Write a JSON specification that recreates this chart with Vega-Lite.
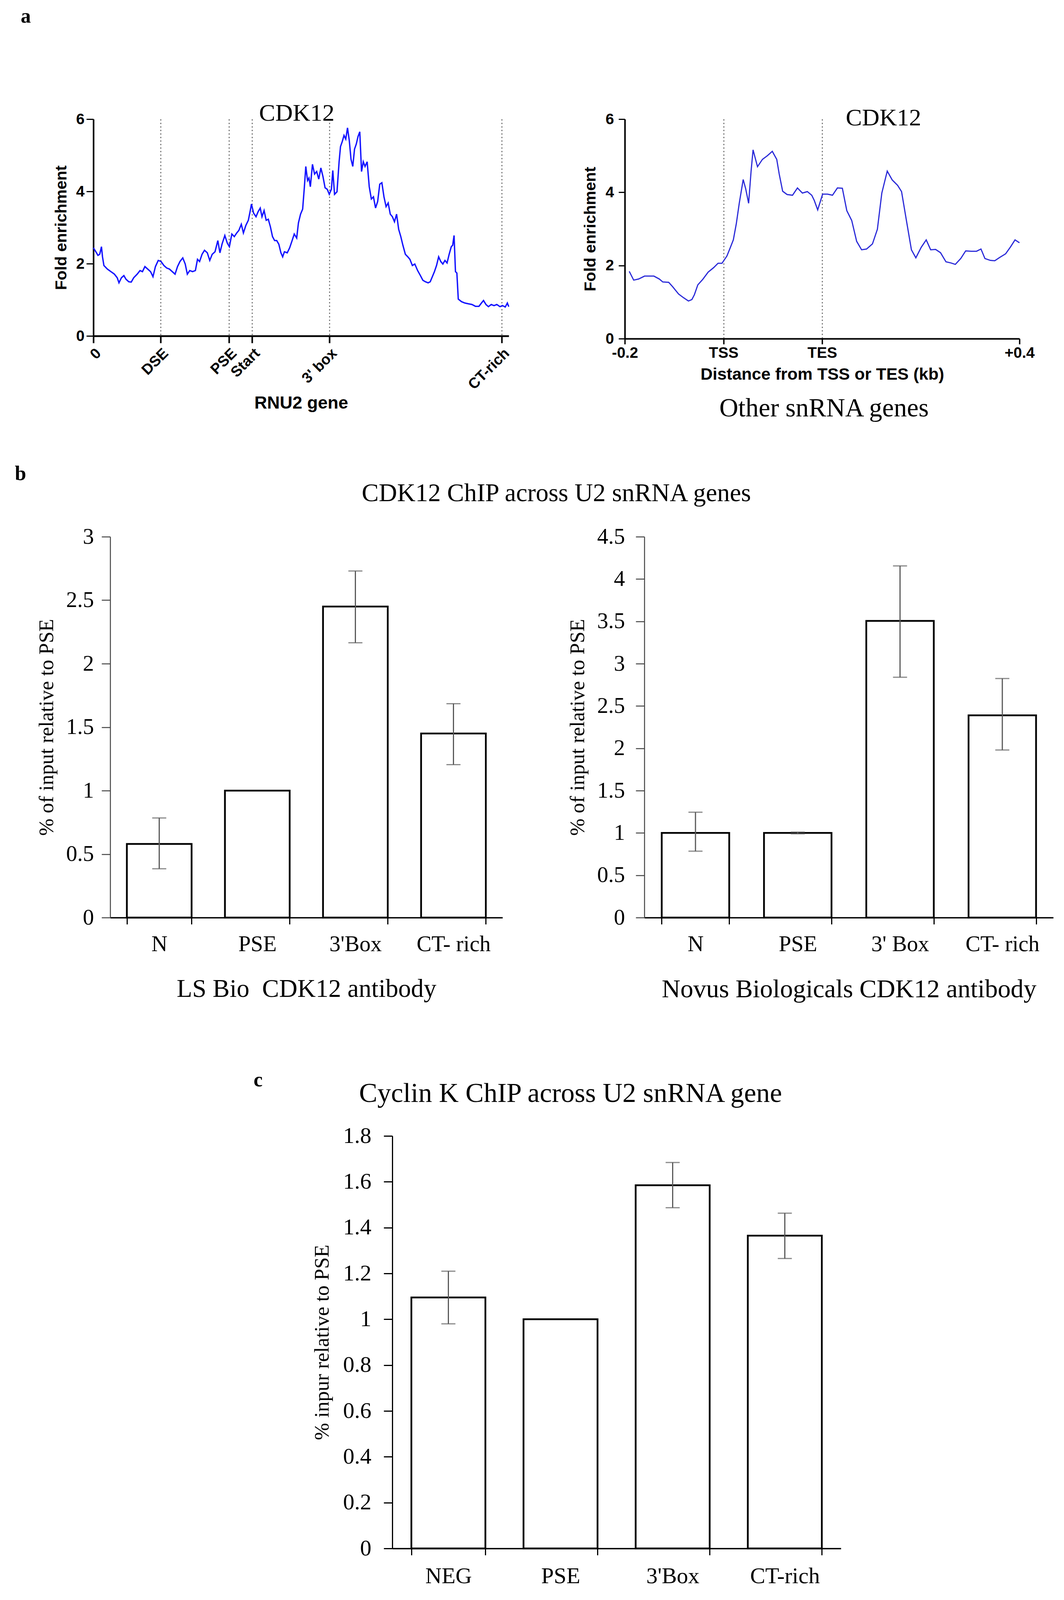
{
  "$schema": "https://vega.github.io/schema/vega-lite/v6.json",
  "background": "white",
  "padding": {"left": 0, "top": 16, "right": 0, "bottom": 0},
  "spacing": 174,
  "config": {
    "view": {"stroke": null},
    "axis": {"labelColor": "black", "titleColor": "black", "domainColor": "black", "tickColor": "black", "labelFlush": false, "labelOverlap": false, "labelLimit": 0, "grid": false},
    "title": {"color": "black"}
  },
  "vconcat": [
    {
      "spacing": 108,
      "vconcat": [
        {
          "title": {"text": "a", "anchor": "start", "frame": "bounds", "font": "Liberation Serif", "fontSize": 52, "fontWeight": "bold", "offset": 190, "dx": 53},
          "spacing": 0,
          "hconcat": [
            {"width": 136, "height": 1, "data": {"values": []}, "mark": "point"},
            {
              "spacing": 179,
              "hconcat": [
                {
                  "width": 1063,
                  "height": 555,
                  "title": {"text": "CDK12", "font": "Liberation Serif", "fontSize": 62, "fontWeight": "normal", "anchor": "middle", "frame": "group", "offset": -36, "dx": -11},
                  "data": {"values": [
                    {"pos":0,"fe":2.44},{"pos":7,"fe":2.33},{"pos":13,"fe":2.23},{"pos":18,"fe":2.26},{"pos":23,"fe":2.47},{"pos":26,"fe":2.19},{"pos":30,"fe":1.95},{"pos":40,"fe":1.85},{"pos":50,"fe":1.78},{"pos":60,"fe":1.71},{"pos":68,"fe":1.61},{"pos":73,"fe":1.47},{"pos":80,"fe":1.61},{"pos":87,"fe":1.67},{"pos":93,"fe":1.57},{"pos":101,"fe":1.50},{"pos":108,"fe":1.49},{"pos":115,"fe":1.61},{"pos":125,"fe":1.71},{"pos":133,"fe":1.81},{"pos":140,"fe":1.78},{"pos":147,"fe":1.92},{"pos":155,"fe":1.85},{"pos":163,"fe":1.78},{"pos":170,"fe":1.64},{"pos":177,"fe":1.92},{"pos":185,"fe":2.09},{"pos":193,"fe":2.06},{"pos":201,"fe":1.95},{"pos":209,"fe":1.88},{"pos":217,"fe":1.85},{"pos":225,"fe":1.78},{"pos":233,"fe":1.71},{"pos":240,"fe":1.92},{"pos":247,"fe":2.06},{"pos":255,"fe":2.16},{"pos":262,"fe":1.99},{"pos":268,"fe":1.71},{"pos":275,"fe":1.81},{"pos":283,"fe":1.78},{"pos":291,"fe":1.81},{"pos":297,"fe":2.12},{"pos":303,"fe":2.06},{"pos":310,"fe":2.26},{"pos":317,"fe":2.37},{"pos":325,"fe":2.30},{"pos":332,"fe":2.09},{"pos":339,"fe":2.26},{"pos":347,"fe":2.33},{"pos":355,"fe":2.64},{"pos":361,"fe":2.30},{"pos":367,"fe":2.54},{"pos":375,"fe":2.78},{"pos":382,"fe":2.57},{"pos":388,"fe":2.47},{"pos":395,"fe":2.82},{"pos":402,"fe":2.75},{"pos":409,"fe":2.85},{"pos":415,"fe":2.92},{"pos":422,"fe":3.09},{"pos":428,"fe":2.85},{"pos":435,"fe":3.06},{"pos":442,"fe":3.20},{"pos":447,"fe":3.44},{"pos":451,"fe":3.65},{"pos":457,"fe":3.40},{"pos":464,"fe":3.30},{"pos":470,"fe":3.44},{"pos":476,"fe":3.54},{"pos":481,"fe":3.30},{"pos":487,"fe":3.47},{"pos":493,"fe":3.20},{"pos":499,"fe":3.23},{"pos":505,"fe":3.02},{"pos":511,"fe":2.75},{"pos":517,"fe":2.64},{"pos":523,"fe":2.64},{"pos":529,"fe":2.54},{"pos":535,"fe":2.30},{"pos":540,"fe":2.19},{"pos":545,"fe":2.33},{"pos":553,"fe":2.30},{"pos":560,"fe":2.44},{"pos":567,"fe":2.64},{"pos":573,"fe":2.82},{"pos":580,"fe":2.71},{"pos":585,"fe":3.13},{"pos":591,"fe":3.37},{"pos":597,"fe":3.51},{"pos":602,"fe":4.13},{"pos":606,"fe":4.69},{"pos":611,"fe":4.30},{"pos":615,"fe":4.37},{"pos":619,"fe":4.13},{"pos":625,"fe":4.75},{"pos":631,"fe":4.48},{"pos":637,"fe":4.55},{"pos":643,"fe":4.34},{"pos":649,"fe":4.65},{"pos":655,"fe":4.41},{"pos":661,"fe":4.10},{"pos":667,"fe":4.06},{"pos":673,"fe":3.92},{"pos":679,"fe":4.06},{"pos":683,"fe":4.58},{"pos":688,"fe":3.92},{"pos":695,"fe":3.99},{"pos":701,"fe":4.82},{"pos":705,"fe":5.24},{"pos":710,"fe":5.38},{"pos":715,"fe":5.55},{"pos":720,"fe":5.45},{"pos":725,"fe":5.76},{"pos":730,"fe":5.41},{"pos":735,"fe":4.89},{"pos":740,"fe":4.69},{"pos":745,"fe":5.17},{"pos":750,"fe":5.31},{"pos":755,"fe":5.52},{"pos":760,"fe":5.65},{"pos":765,"fe":4.55},{"pos":770,"fe":4.82},{"pos":775,"fe":4.69},{"pos":781,"fe":4.82},{"pos":787,"fe":4.13},{"pos":793,"fe":3.79},{"pos":799,"fe":3.85},{"pos":805,"fe":3.54},{"pos":811,"fe":3.72},{"pos":817,"fe":4.20},{"pos":823,"fe":4.24},{"pos":829,"fe":3.85},{"pos":835,"fe":3.58},{"pos":841,"fe":3.68},{"pos":847,"fe":3.37},{"pos":853,"fe":3.30},{"pos":859,"fe":3.16},{"pos":865,"fe":3.37},{"pos":871,"fe":2.95},{"pos":877,"fe":2.75},{"pos":883,"fe":2.51},{"pos":890,"fe":2.26},{"pos":897,"fe":2.19},{"pos":903,"fe":2.12},{"pos":910,"fe":1.95},{"pos":917,"fe":1.99},{"pos":925,"fe":1.81},{"pos":933,"fe":1.67},{"pos":940,"fe":1.54},{"pos":947,"fe":1.50},{"pos":955,"fe":1.47},{"pos":961,"fe":1.50},{"pos":967,"fe":1.64},{"pos":973,"fe":1.78},{"pos":979,"fe":1.95},{"pos":985,"fe":2.19},{"pos":991,"fe":2.06},{"pos":997,"fe":1.99},{"pos":1003,"fe":2.09},{"pos":1009,"fe":2.02},{"pos":1015,"fe":2.26},{"pos":1021,"fe":2.47},{"pos":1025,"fe":2.51},{"pos":1029,"fe":2.78},{"pos":1033,"fe":1.78},{"pos":1037,"fe":1.74},{"pos":1041,"fe":1.02},{"pos":1050,"fe":0.95},{"pos":1060,"fe":0.91},{"pos":1070,"fe":0.89},{"pos":1080,"fe":0.87},{"pos":1090,"fe":0.82},{"pos":1100,"fe":0.82},{"pos":1107,"fe":0.91},{"pos":1113,"fe":0.98},{"pos":1120,"fe":0.87},{"pos":1127,"fe":0.81},{"pos":1135,"fe":0.87},{"pos":1143,"fe":0.84},{"pos":1151,"fe":0.87},{"pos":1160,"fe":0.81},{"pos":1167,"fe":0.84},{"pos":1175,"fe":0.80},{"pos":1181,"fe":0.91},{"pos":1185,"fe":0.81}
                  ]},
                  "mark": {"type": "line", "color": "#1414ff", "strokeWidth": 3.5},
                  "encoding": {
                    "x": {"field": "pos", "type": "quantitative", "scale": {"domain": [0, 1185], "nice": false, "zero": false},
                      "axis": {"values": [0, 192, 387, 453, 673, 1165],
                        "labelExpr": "datum.value == 0 ? '0' : datum.value == 192 ? 'DSE' : datum.value == 387 ? 'PSE' : datum.value == 453 ? 'Start' : datum.value == 673 ? \"3' box\" : 'CT-rich'",
                        "labelAngle": -45, "labelFont": "Liberation Sans", "labelFontWeight": "bold", "labelFontSize": 38, "labelPadding": 7,
                        "grid": true, "gridDash": [3, 6], "gridColor": "#555555", "gridWidth": 2.5,
                        "gridOpacity": {"condition": {"test": "datum.value == 0", "value": 0}, "value": 1},
                        "domainWidth": 4.5, "tickWidth": 4, "tickSize": 18,
                        "title": "RNU2 gene", "titleFont": "Liberation Sans", "titleFontWeight": "bold", "titleFontSize": 45, "titlePadding": 5}},
                    "y": {"field": "fe", "type": "quantitative", "scale": {"domain": [0, 6], "nice": false},
                      "axis": {"values": [0, 2, 4, 6], "labelFont": "Liberation Sans", "labelFontWeight": "bold", "labelFontSize": 39, "labelPadding": 5,
                        "domainWidth": 4, "tickWidth": 3, "tickSize": 18,
                        "title": "Fold enrichment", "titleFont": "Liberation Sans", "titleFontWeight": "bold", "titleFontSize": 41, "titlePadding": 16}}
                  }
                },
                {
                  "title": {"text": "Other snRNA genes", "orient": "bottom", "font": "Liberation Serif", "fontSize": 67, "fontWeight": "normal", "anchor": "middle", "frame": "bounds", "offset": 33, "dx": 40},
                  "vconcat": [
                    {
                      "width": 1010,
                      "height": 562,
                      "title": {"text": "CDK12", "font": "Liberation Serif", "fontSize": 62, "fontWeight": "normal", "anchor": "middle", "frame": "group", "dx": 157, "offset": -48},
                      "data": {"values": [
                        {"dist":-0.191,"fe":1.84},{"dist":-0.182,"fe":1.60},{"dist":-0.172,"fe":1.63},{"dist":-0.160,"fe":1.71},{"dist":-0.141,"fe":1.71},{"dist":-0.130,"fe":1.63},{"dist":-0.123,"fe":1.55},{"dist":-0.111,"fe":1.54},{"dist":-0.103,"fe":1.42},{"dist":-0.091,"fe":1.22},{"dist":-0.081,"fe":1.12},{"dist":-0.071,"fe":1.03},{"dist":-0.064,"fe":1.07},{"dist":-0.059,"fe":1.20},{"dist":-0.052,"fe":1.47},{"dist":-0.042,"fe":1.62},{"dist":-0.031,"fe":1.82},{"dist":-0.020,"fe":1.94},{"dist":-0.011,"fe":2.06},{"dist":-0.003,"fe":2.06},{"dist":0.007,"fe":2.26},{"dist":0.013,"fe":2.46},{"dist":0.020,"fe":2.70},{"dist":0.026,"fe":3.14},{"dist":0.032,"fe":3.70},{"dist":0.040,"fe":4.35},{"dist":0.045,"fe":4.10},{"dist":0.051,"fe":3.70},{"dist":0.056,"fe":4.58},{"dist":0.060,"fe":5.16},{"dist":0.069,"fe":4.70},{"dist":0.079,"fe":4.90},{"dist":0.089,"fe":5.00},{"dist":0.099,"fe":5.12},{"dist":0.108,"fe":4.90},{"dist":0.113,"fe":4.50},{"dist":0.120,"fe":4.03},{"dist":0.129,"fe":3.94},{"dist":0.140,"fe":3.92},{"dist":0.150,"fe":4.12},{"dist":0.160,"fe":3.98},{"dist":0.170,"fe":4.02},{"dist":0.179,"fe":3.92},{"dist":0.184,"fe":3.78},{"dist":0.191,"fe":3.52},{"dist":0.201,"fe":3.95},{"dist":0.211,"fe":3.95},{"dist":0.221,"fe":3.92},{"dist":0.231,"fe":4.12},{"dist":0.241,"fe":4.11},{"dist":0.250,"fe":3.50},{"dist":0.260,"fe":3.23},{"dist":0.270,"fe":2.66},{"dist":0.280,"fe":2.43},{"dist":0.290,"fe":2.45},{"dist":0.302,"fe":2.59},{"dist":0.312,"fe":2.99},{"dist":0.321,"fe":3.98},{"dist":0.332,"fe":4.58},{"dist":0.342,"fe":4.34},{"dist":0.353,"fe":4.19},{"dist":0.361,"fe":4.02},{"dist":0.371,"fe":3.22},{"dist":0.381,"fe":2.43},{"dist":0.390,"fe":2.21},{"dist":0.401,"fe":2.50},{"dist":0.411,"fe":2.70},{"dist":0.420,"fe":2.43},{"dist":0.430,"fe":2.44},{"dist":0.440,"fe":2.35},{"dist":0.451,"fe":2.10},{"dist":0.461,"fe":2.07},{"dist":0.470,"fe":2.03},{"dist":0.481,"fe":2.19},{"dist":0.491,"fe":2.40},{"dist":0.502,"fe":2.39},{"dist":0.513,"fe":2.39},{"dist":0.522,"fe":2.45},{"dist":0.530,"fe":2.19},{"dist":0.541,"fe":2.14},{"dist":0.550,"fe":2.13},{"dist":0.560,"fe":2.22},{"dist":0.572,"fe":2.32},{"dist":0.582,"fe":2.51},{"dist":0.591,"fe":2.70},{"dist":0.600,"fe":2.62}
                      ]},
                      "mark": {"type": "line", "color": "#2a2ad8", "strokeWidth": 3},
                      "encoding": {
                        "x": {"field": "dist", "type": "quantitative", "scale": {"domain": [-0.2, 0.6], "nice": false, "zero": false},
                          "axis": {"values": [-0.2, 0, 0.2, 0.6],
                            "labelExpr": "datum.value < -0.1 ? '-0.2' : datum.value < 0.1 ? 'TSS' : datum.value < 0.4 ? 'TES' : '+0.4'",
                            "labelAngle": 0, "labelFont": "Liberation Sans", "labelFontWeight": "bold", "labelFontSize": 39, "labelPadding": 3,
                            "grid": true, "gridDash": [3, 6], "gridColor": "#555555", "gridWidth": 2.5,
                            "gridOpacity": {"condition": {"test": "datum.value < -0.1 || datum.value > 0.4", "value": 0}, "value": 1},
                            "domainWidth": 4, "tickWidth": 3.5, "tickSize": 14,
                            "title": "Distance from TSS or TES (kb)", "titleFont": "Liberation Sans", "titleFontWeight": "bold", "titleFontSize": 43, "titlePadding": 14}},
                        "y": {"field": "fe", "type": "quantitative", "scale": {"domain": [0, 6], "nice": false},
                          "axis": {"values": [0, 2, 4, 6], "labelFont": "Liberation Sans", "labelFontWeight": "bold", "labelFontSize": 39, "labelPadding": 12,
                            "domainWidth": 4, "tickWidth": 3, "tickSize": 16,
                            "title": "Fold enrichment", "titleFont": "Liberation Sans", "titleFontWeight": "bold", "titleFontSize": 41, "titlePadding": 17}}
                      }
                    }
                  ]
                }
              ]
            }
          ]
        },
        {
          "title": {"text": "b", "anchor": "start", "frame": "bounds", "font": "Liberation Serif", "fontSize": 52, "fontWeight": "bold", "offset": -9, "dx": 38},
          "spacing": 0,
          "hconcat": [
            {"width": 93, "height": 1, "data": {"values": []}, "mark": "point"},
            {
              "title": {"text": "CDK12 ChIP across U2 snRNA genes", "font": "Liberation Serif", "fontSize": 65, "fontWeight": "normal", "anchor": "middle", "frame": "bounds", "offset": 48, "dx": 29},
              "spacing": 166,
              "hconcat": [
                {
                  "width": 1004,
                  "height": 975,
                  "data": {"values": [
                    {"region": "N", "value": 0.58, "lo": 0.385, "hi": 0.785},
                    {"region": "PSE", "value": 1.0, "lo": null, "hi": null},
                    {"region": "3'Box", "value": 2.45, "lo": 2.165, "hi": 2.73},
                    {"region": "CT- rich", "value": 1.45, "lo": 1.205, "hi": 1.685}
                  ]},
                  "encoding": {
                    "x": {"field": "region", "type": "nominal", "sort": null, "scale": {"paddingInner": 0.34, "paddingOuter": 0.17},
                      "axis": {"labelAngle": 0, "tickBand": "extent", "labelFont": "Liberation Serif", "labelFontSize": 57, "labelPadding": 23,
                        "domainWidth": 3.5, "tickWidth": 3, "tickSize": 17,
                        "title": "LS Bio\u00a0 CDK12 antibody", "titleFont": "Liberation Serif", "titleFontWeight": "normal", "titleFontSize": 65, "titlePadding": 55}}
                  },
                  "layer": [
                    {"mark": {"type": "bar", "fill": "white", "stroke": "black", "strokeWidth": 4.5},
                      "encoding": {"y": {"field": "value", "type": "quantitative", "title": "% of input relative to PSE", "scale": {"domain": [0, 3], "nice": false},
                        "axis": {"values": [0, 0.5, 1, 1.5, 2, 2.5, 3], "format": "~g", "labelFont": "Liberation Serif", "labelFontSize": 57, "labelPadding": 20,
                          "domainWidth": 2.5, "domainColor": "#444444", "tickColor": "#444444", "tickWidth": 2.5, "tickSize": 22,
                          "titleFont": "Liberation Serif", "titleFontWeight": "normal", "titleFontSize": 53, "titlePadding": 22}}}},
                    {"mark": {"type": "rule", "color": "#595959", "strokeWidth": 3},
                      "encoding": {"y": {"field": "lo", "type": "quantitative", "title": "% of input relative to PSE"}, "y2": {"field": "hi"}}},
                    {"mark": {"type": "tick", "color": "#595959", "thickness": 3, "size": 36},
                      "encoding": {"y": {"field": "lo", "type": "quantitative", "title": "% of input relative to PSE"}}},
                    {"mark": {"type": "tick", "color": "#595959", "thickness": 3, "size": 36},
                      "encoding": {"y": {"field": "hi", "type": "quantitative", "title": "% of input relative to PSE"}}}
                  ]
                },
                {
                  "width": 1047,
                  "height": 975,
                  "data": {"values": [
                    {"region": "N", "value": 1.0, "lo": 0.785, "hi": 1.245},
                    {"region": "PSE", "value": 1.0, "lo": 0.99, "hi": 1.01},
                    {"region": "3' Box", "value": 3.505, "lo": 2.84, "hi": 4.155},
                    {"region": "CT- rich", "value": 2.39, "lo": 1.98, "hi": 2.825}
                  ]},
                  "encoding": {
                    "x": {"field": "region", "type": "nominal", "sort": null, "scale": {"paddingInner": 0.34, "paddingOuter": 0.17},
                      "axis": {"labelAngle": 0, "tickBand": "extent", "labelFont": "Liberation Serif", "labelFontSize": 57, "labelPadding": 23,
                        "domainWidth": 3.5, "tickWidth": 3, "tickSize": 17,
                        "title": "Novus Biologicals CDK12 antibody", "titleFont": "Liberation Serif", "titleFontWeight": "normal", "titleFontSize": 66, "titlePadding": 55}}
                  },
                  "layer": [
                    {"mark": {"type": "bar", "fill": "white", "stroke": "black", "strokeWidth": 4.5},
                      "encoding": {"y": {"field": "value", "type": "quantitative", "title": "% of input relative to PSE", "scale": {"domain": [0, 4.5], "nice": false},
                        "axis": {"values": [0, 0.5, 1, 1.5, 2, 2.5, 3, 3.5, 4, 4.5], "format": "~g", "labelFont": "Liberation Serif", "labelFontSize": 57, "labelPadding": 28,
                          "domainWidth": 2.5, "domainColor": "#444444", "tickColor": "#444444", "tickWidth": 2.5, "tickSize": 22,
                          "titleFont": "Liberation Serif", "titleFontWeight": "normal", "titleFontSize": 53, "titlePadding": 22}}}},
                    {"mark": {"type": "rule", "color": "#595959", "strokeWidth": 3},
                      "encoding": {"y": {"field": "lo", "type": "quantitative", "title": "% of input relative to PSE"}, "y2": {"field": "hi"}}},
                    {"mark": {"type": "tick", "color": "#595959", "thickness": 3, "size": 36},
                      "encoding": {"y": {"field": "lo", "type": "quantitative", "title": "% of input relative to PSE"}}},
                    {"mark": {"type": "tick", "color": "#595959", "thickness": 3, "size": 36},
                      "encoding": {"y": {"field": "hi", "type": "quantitative", "title": "% of input relative to PSE"}}}
                  ]
                }
              ]
            }
          ]
        }
      ]
    },
    {
      "title": {"text": "c", "anchor": "start", "frame": "bounds", "font": "Liberation Serif", "fontSize": 52, "fontWeight": "bold", "offset": -27, "dx": 649},
      "spacing": 0,
      "hconcat": [
        {"width": 798, "height": 1, "data": {"values": []}, "mark": "point"},
        {
          "width": 1148,
          "height": 1056,
          "title": {"text": "Cyclin K ChIP across U2 snRNA gene", "font": "Liberation Serif", "fontSize": 70, "fontWeight": "normal", "anchor": "middle", "frame": "bounds", "offset": 43, "dx": -15},
          "data": {"values": [
            {"region": "NEG", "value": 1.095, "lo": 0.98, "hi": 1.21},
            {"region": "PSE", "value": 1.0, "lo": null, "hi": null},
            {"region": "3'Box", "value": 1.585, "lo": 1.487, "hi": 1.684},
            {"region": "CT-rich", "value": 1.365, "lo": 1.265, "hi": 1.463}
          ]},
          "encoding": {
            "x": {"field": "region", "type": "nominal", "sort": null, "scale": {"paddingInner": 0.34, "paddingOuter": 0.17},
              "axis": {"labelAngle": 0, "tickBand": "extent", "labelFont": "Liberation Serif", "labelFontSize": 58, "labelPadding": 25,
                "domainWidth": 3.5, "tickWidth": 3, "tickSize": 17, "title": null}}
          },
          "layer": [
            {"mark": {"type": "bar", "fill": "white", "stroke": "black", "strokeWidth": 4.5},
              "encoding": {"y": {"field": "value", "type": "quantitative", "title": "% inpur relative to PSE", "scale": {"domain": [0, 1.8], "nice": false},
                "axis": {"values": [0, 0.2, 0.4, 0.6, 0.8, 1, 1.2, 1.4, 1.6, 1.8], "format": "~g", "labelFont": "Liberation Serif", "labelFontSize": 58, "labelPadding": 32,
                  "domainWidth": 3, "tickWidth": 3, "tickSize": 22,
                  "titleFont": "Liberation Serif", "titleFontWeight": "normal", "titleFontSize": 53, "titlePadding": 26}}}},
            {"mark": {"type": "rule", "color": "#595959", "strokeWidth": 3},
              "encoding": {"y": {"field": "lo", "type": "quantitative", "title": "% inpur relative to PSE"}, "y2": {"field": "hi"}}},
            {"mark": {"type": "tick", "color": "#595959", "thickness": 3, "size": 36},
              "encoding": {"y": {"field": "lo", "type": "quantitative", "title": "% inpur relative to PSE"}}},
            {"mark": {"type": "tick", "color": "#595959", "thickness": 3, "size": 36},
              "encoding": {"y": {"field": "hi", "type": "quantitative", "title": "% inpur relative to PSE"}}}
          ]
        }
      ]
    }
  ]
}
